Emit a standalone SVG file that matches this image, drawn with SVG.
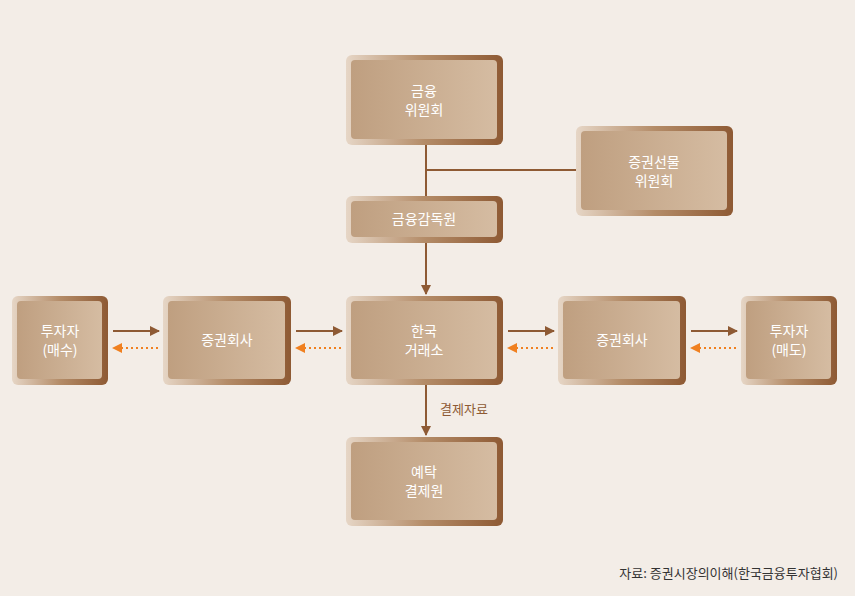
<svg xmlns="http://www.w3.org/2000/svg" width="855" height="596" viewBox="0 0 855 596">
<defs>
<linearGradient id="go" x1="0" y1="0" x2="1" y2="0"><stop offset="0" stop-color="#e6d6c6"/><stop offset="0.5" stop-color="#b48c68"/><stop offset="1" stop-color="#8e5a34"/></linearGradient>
<linearGradient id="gi" x1="0" y1="0" x2="1" y2="0"><stop offset="0" stop-color="#bf9f80"/><stop offset="1" stop-color="#d5bca2"/></linearGradient>
<marker id="ab" markerWidth="10" markerHeight="10" refX="9" refY="5" orient="auto" markerUnits="userSpaceOnUse"><path d="M0,0 L10,5 L0,10 Z" fill="#8e5a34"/></marker>
<marker id="ao" markerWidth="10" markerHeight="10" refX="9" refY="5" orient="auto" markerUnits="userSpaceOnUse"><path d="M0,0 L10,5 L0,10 Z" fill="#f08020"/></marker>
</defs>
<style>
.o{fill:url(#go)}.i{fill:url(#gi)}
.t{font-family:"Noto Sans CJK KR","Noto Sans",sans-serif;font-size:14px;fill:#fff;text-anchor:middle}
.b{stroke:#8e5a34;stroke-width:2;fill:none}
.d{stroke:#f08020;stroke-width:2;stroke-dasharray:2 3;fill:none}
</style>
<rect width="855" height="596" fill="#f3ede7"/>
<g id="connectors">
<path class="b" d="M426,145 V196 M426,170 H576"/>
<path class="b" d="M426,243 V294" marker-end="url(#ab)"/>
<path class="b" d="M426,385 V435" marker-end="url(#ab)"/>
<text x="440" y="414" font-family="Noto Sans CJK KR,sans-serif" font-size="13" fill="#8e5a34">결제자료</text>
<path class="b" d="M113,331 H159" marker-end="url(#ab)"/>
<path class="d" d="M158,348 H113" marker-end="url(#ao)"/>
<path class="b" d="M296,331 H342" marker-end="url(#ab)"/>
<path class="d" d="M341,348 H296" marker-end="url(#ao)"/>
<path class="b" d="M508,331 H554" marker-end="url(#ab)"/>
<path class="d" d="M553,348 H508" marker-end="url(#ao)"/>
<path class="b" d="M691,331 H737" marker-end="url(#ab)"/>
<path class="d" d="M736,348 H691" marker-end="url(#ao)"/>
</g>
<g id="fsc"><rect class="o" x="346" y="55" width="157" height="90" rx="6"/><rect class="i" x="351" y="60" width="146" height="79" rx="4"/><text class="t" x="424" y="96">금융</text><text class="t" x="424" y="115">위원회</text></g>
<g id="sfc"><rect class="o" x="576" y="126" width="157" height="90" rx="6"/><rect class="i" x="581" y="131" width="146" height="79" rx="4"/><text class="t" x="654" y="167">증권선물</text><text class="t" x="654" y="186">위원회</text></g>
<g id="fss"><rect class="o" x="346" y="196" width="157" height="47" rx="6"/><rect class="i" x="351" y="201" width="146" height="36" rx="4"/><text class="t" x="424" y="224">금융감독원</text></g>
<g id="inv-buy"><rect class="o" x="12" y="296" width="96" height="89" rx="6"/><rect class="i" x="17" y="301" width="85" height="78" rx="4"/><text class="t" x="60" y="336">투자자</text><text class="t" x="60" y="355">(매수)</text></g>
<g id="sec-l"><rect class="o" x="163" y="296" width="128" height="89" rx="6"/><rect class="i" x="168" y="301" width="117" height="78" rx="4"/><text class="t" x="227" y="345">증권회사</text></g>
<g id="krx"><rect class="o" x="346" y="296" width="157" height="89" rx="6"/><rect class="i" x="351" y="301" width="146" height="78" rx="4"/><text class="t" x="424" y="336">한국</text><text class="t" x="424" y="355">거래소</text></g>
<g id="sec-r"><rect class="o" x="558" y="296" width="128" height="89" rx="6"/><rect class="i" x="563" y="301" width="117" height="78" rx="4"/><text class="t" x="622" y="345">증권회사</text></g>
<g id="inv-sell"><rect class="o" x="741" y="296" width="96" height="89" rx="6"/><rect class="i" x="746" y="301" width="85" height="78" rx="4"/><text class="t" x="789" y="336">투자자</text><text class="t" x="789" y="355">(매도)</text></g>
<g id="ksd"><rect class="o" x="346" y="437" width="157" height="89" rx="6"/><rect class="i" x="351" y="442" width="146" height="78" rx="4"/><text class="t" x="424" y="477">예탁</text><text class="t" x="424" y="496">결제원</text></g>
<text x="838" y="578" text-anchor="end" font-family="Noto Sans CJK KR,sans-serif" font-size="13" fill="#333">자료: 증권시장의이해(한국금융투자협회)</text>
</svg>
